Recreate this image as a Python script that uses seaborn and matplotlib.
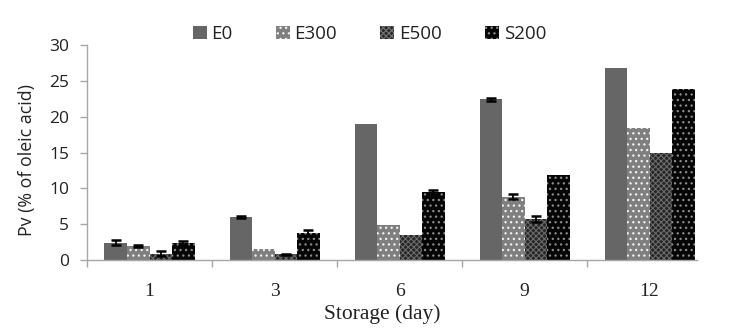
import numpy as np
import pandas as pd
import seaborn as sns
import matplotlib.pyplot as plt
from matplotlib.container import BarContainer

# storage days and treatments
days = ['1', '3', '6', '9', '12']
groups = ['E0', 'E300', 'E500', 'S200']

# Pv values (% of oleic acid)
e0 = [2.4, 6.0, 19.0, 22.4, 26.8]
e300 = [1.9, 1.5, 4.9, 8.8, 18.4]
e500 = [0.9, 0.8, 3.5, 5.7, 15.0]
s200 = [2.4, 3.8, 9.5, 11.8, 23.9]

# error bar half widths
e0_err = [0.35, 0.15, 0.0, 0.25, 0.0]
e300_err = [0.15, 0.0, 0.0, 0.35, 0.0]
e500_err = [0.3, 0.1, 0.0, 0.45, 0.0]
s200_err = [0.3, 0.4, 0.3, 0.0, 0.0]

values = [e0, e300, e500, s200]
errors = [e0_err, e300_err, e500_err, s200_err]

df = pd.DataFrame({
    'day': days * len(groups),
    'group': np.repeat(groups, len(days)),
    'pv': np.concatenate(values),
})

sns.set_style('white')
plt.rcParams['hatch.linewidth'] = 0.9

fig = plt.figure(figsize=(7.41, 3.31), dpi=100)
ax = fig.add_axes([0.1174, 0.2145, 0.8436, 0.6495])

faces = ['#666666', '#7f7f7f', '#262626', '#050505']
hatches = [None, '...', 'xxxxxx', '...']
hatch_cols = ['#666666', '#f2f2f2', '#707070', '#8c8c8c']
hatch_lw = [0.9, 0.9, 0.7, 0.9]

sns.barplot(data=df, x='day', y='pv', hue='group', order=days, hue_order=groups,
            palette=faces, width=0.72, gap=0, errorbar=None, saturation=1,
            legend=False, ax=ax)

bars = [c for c in ax.containers if isinstance(c, BarContainer)]

# patterns and error bars
for cont, h, hc, hl, err in zip(bars, hatches, hatch_cols, hatch_lw, errors):
    xs, ys = [], []
    for p in cont.patches:
        p.set_edgecolor(hc)
        p.set_linewidth(0)
        if h:
            p.set_hatch(h)
            if hasattr(p, 'set_hatch_linewidth'):
                p.set_hatch_linewidth(hl)
        xs.append(p.get_x() + p.get_width() / 2)
        ys.append(p.get_height())
    xs, ys, e = np.array(xs), np.array(ys), np.array(err)
    m = e > 0
    ax.errorbar(xs[m], ys[m], yerr=e[m], fmt='none', ecolor='black',
                elinewidth=1.3, capsize=3.5, capthick=1.8, zorder=5)

ax.set_ylim(0, 30)
ax.set_yticks(range(0, 31, 5))
ax.set_xlim(-0.5, 4.5)

for s in ['top', 'right']:
    ax.spines[s].set_visible(False)
for s in ['left', 'bottom']:
    ax.spines[s].set_color('#a6a6a6')
    ax.spines[s].set_linewidth(1.0)
ax.spines['bottom'].set_bounds(-0.5, 4.38)

# x ticks sit between categories
ax.set_xticks([])
ax.set_xticks(np.arange(-0.5, 4.0, 1.0), minor=True)
ax.tick_params(axis='x', which='minor', bottom=True, length=5, color='#a6a6a6', width=1)
for i, d in enumerate(days):
    ax.text(i, -4.4, d, ha='center', va='center', fontsize=14,
            family='Liberation Serif', color='#222222')
ax.tick_params(axis='y', left=True, length=5, color='#a6a6a6', width=1,
               labelsize=12.5, labelcolor='#222222', pad=8)
for lab in ax.get_yticklabels():
    lab.set_family('Open Sans')

ax.set_xlabel('')
ax.set_ylabel('Pv (% of oleic acid)', fontsize=12.8, family='Open Sans',
              color='#222222')
ax.yaxis.set_label_coords(-0.082, 0.465)
fig.text(0.516, 0.05, 'Storage (day)', ha='center', va='center',
         fontsize=15.5, family='Liberation Serif', color='#222222')

handles = [cont.patches[0] for cont in bars]
leg = fig.legend(handles, groups, loc='center', bbox_to_anchor=(0.4985, 0.897),
                 ncol=4, frameon=False, handlelength=0.75, handleheight=0.75,
                 handletextpad=0.25, columnspacing=2.3,
                 prop={'family': 'Open Sans', 'size': 13.5})
for t in leg.get_texts():
    t.set_color('#222222')

fig.savefig('out.png', dpi=100)
